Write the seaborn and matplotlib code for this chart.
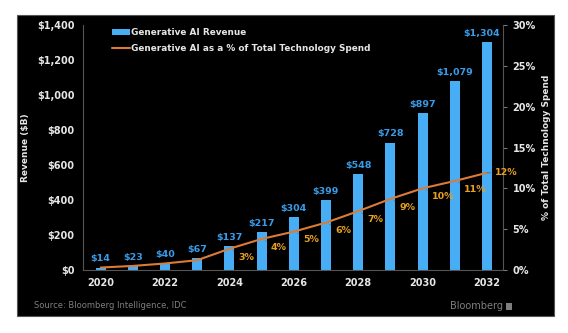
import numpy as np
import pandas as pd
import matplotlib
matplotlib.use("Agg")
import matplotlib.pyplot as plt
from matplotlib.patches import Rectangle
from matplotlib.lines import Line2D
from matplotlib.patches import Patch
import seaborn as sns

years = [2020, 2021, 2022, 2023, 2024, 2025, 2026, 2027, 2028, 2029, 2030, 2031, 2032]
revenue = [14, 23, 40, 67, 137, 217, 304, 399, 548, 728, 897, 1079, 1304]
pct_spend = [0.3, 0.5, 0.8, 1.2, 2.6, 3.8, 4.7, 5.8, 7.2, 8.7, 10.0, 10.9, 11.9]
pct_labels = ["", "", "", "", "3%", "4%", "5%", "6%", "7%", "9%", "10%", "11%", "12%"]
left_ticks = [0, 200, 400, 600, 800, 1000, 1200, 1400]
right_ticks = [0, 5, 10, 15, 20, 25, 30]
xtick_years = [2020, 2022, 2024, 2026, 2028, 2030, 2032]

BLUE = "#47AEF5"
BLUE_TXT = "#3A9BE8"
ORANGE = "#DD7A35"
GOLD = "#E8A020"
TXT = "#E6E6E6"
GREY = "#7F7F7F"

sns.set_theme(style="dark")
plt.rcParams['font.family'] = ['DejaVu Sans']

fig = plt.figure(figsize=(5.68, 3.33), dpi=100)
fig.patch.set_facecolor("white")
fig.patches.append(Rectangle((17 / 568, 1 - 316 / 333), (554 - 17) / 568, (316 - 15) / 333,
                             transform=fig.transFigure, facecolor="black",
                             edgecolor="#555555", linewidth=0.8, zorder=-10))

ax = fig.add_axes([83 / 568, 63 / 333, (503 - 83) / 568, (270 - 25) / 333])
ax.patch.set_alpha(0)

df = pd.DataFrame({"year": [str(y) for y in years], "revenue": revenue,
                   "pct": pct_spend, "idx": np.arange(len(years))})

sns.barplot(data=df, x="year", y="revenue", color=BLUE, width=0.31,
            saturation=1, linewidth=0, edgecolor="none", ax=ax, zorder=2)
ax.set_ylim(0, 1400)
ax.set_xlim(-0.55, len(years) - 0.5)
ax.set_yticks(left_ticks)
ax.set_yticklabels([f"${v:,}" for v in left_ticks])
ax.set_xticks([years.index(y) for y in xtick_years])
ax.set_xticklabels([str(y) for y in xtick_years])
ax.set_xlabel("")
ax.set_ylabel("Revenue ($B)", color=TXT, fontsize=6.5, fontweight="bold", labelpad=5)
ax.tick_params(axis="both", colors=TXT, labelsize=7, length=0, pad=6)
for lab in ax.get_xticklabels() + ax.get_yticklabels():
    lab.set_fontweight("bold")
ax.grid(False)
for s in ["top", "right"]:
    ax.spines[s].set_visible(False)
for s in ["left", "bottom"]:
    ax.spines[s].set_visible(True)
    ax.spines[s].set_color("#555555")
    ax.spines[s].set_linewidth(0.8)

for i, v in enumerate(revenue):
    dx = -4 if i == len(revenue) - 1 else 0
    ax.annotate(f"${v:,}", (i, v), xytext=(dx, 3), textcoords="offset points",
                ha="center", va="bottom", color=BLUE_TXT, fontsize=6.8,
                fontweight="bold", zorder=4)

ax2 = ax.twinx()
ax2.patch.set_alpha(0)
sns.lineplot(data=df, x="idx", y="pct", color=ORANGE, linewidth=1.5, ax=ax2,
             zorder=3)
ax2.set_ylim(0, 30)
ax2.set_xlim(-0.55, len(years) - 0.5)
ax2.set_yticks(right_ticks)
ax2.set_yticklabels([f"{v}%" for v in right_ticks])
ax2.set_ylabel("% of Total Technology Spend", color=TXT, fontsize=6.5,
               fontweight="bold", labelpad=4)
ax2.set_xlabel("")
ax2.tick_params(axis="y", colors=TXT, labelsize=7, length=3, width=0.8,
                pad=4)
ax2.tick_params(axis="y", color="#777777")
for lab in ax2.get_yticklabels():
    lab.set_fontweight("bold")
ax2.grid(False)
for s in ["top", "left", "bottom"]:
    ax2.spines[s].set_visible(False)
ax2.spines["right"].set_visible(True)
ax2.spines["right"].set_color("#555555")
ax2.spines["right"].set_linewidth(0.8)

for i, (v, lab) in enumerate(zip(pct_spend, pct_labels)):
    if not lab:
        continue
    if i == len(years) - 1:
        off = (6, 0)
    else:
        off = (6.5, -6)
    ax2.annotate(lab, (i, v), xytext=off, textcoords="offset points",
                 ha="left", va="center", color=GOLD, fontsize=6.8,
                 fontweight="bold", zorder=5,
                 arrowprops=dict(arrowstyle="-", color="#666666", lw=0.6,
                                 shrinkA=1, shrinkB=3))

handles = [Patch(facecolor=BLUE, edgecolor="none"),
           Line2D([0], [0], color=ORANGE, linewidth=1.5)]
leg = ax2.legend(handles, ["Generative AI Revenue",
                           "Generative AI as a % of Total Technology Spend"],
                 loc="upper left", bbox_to_anchor=(0.055, 1.01), frameon=False,
                 fontsize=6.4, handlelength=2.0, handleheight=0.6,
                 labelspacing=0.75, handletextpad=0.1, borderaxespad=0.25)
for t in leg.get_texts():
    t.set_color(TXT)
    t.set_fontweight("bold")

fig.text(34 / 568, 1 - 306 / 333, "Source: Bloomberg Intelligence, IDC",
         color=GREY, fontsize=6.0, va="center", ha="left")
fig.text(503 / 568, 1 - 306 / 333, "Bloomberg", color=GREY, fontsize=7,
         va="center", ha="right")
fig.patches.append(Rectangle((506 / 568, 1 - 310 / 333), 6 / 568, 7 / 333,
                             transform=fig.transFigure, facecolor=GREY,
                             edgecolor="none", zorder=1))

fig.savefig("out.png", dpi=100, facecolor="white")
